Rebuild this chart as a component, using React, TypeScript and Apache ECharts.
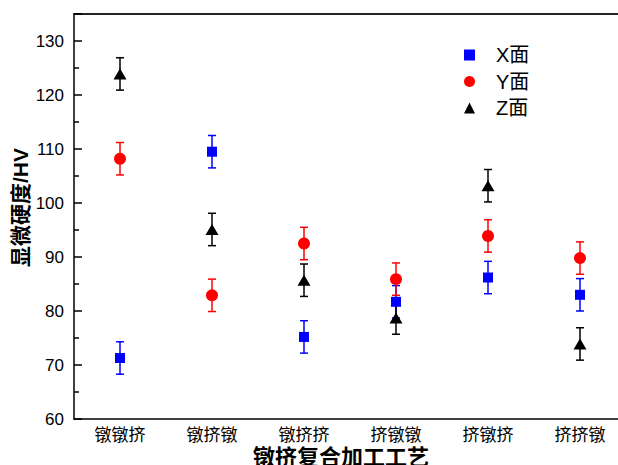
import React, { useEffect, useRef } from "react";
import * as echarts from "echarts";

const categories = ["镦镦挤", "镦挤镦", "镦挤挤", "挤镦镦", "挤镦挤", "挤挤镦"];
const seriesNames = ["X面", "Y面", "Z面"];
const xFace = [71.3, 109.5, 75.2, 81.7, 86.2, 83.0];
const yFace = [108.2, 82.9, 92.5, 85.9, 93.9, 89.8];
const zFace = [123.9, 95.1, 85.7, 78.7, 103.2, 73.9];
const xErr = [3.0, 3.0, 3.0, 3.0, 3.0, 3.0];
const yErr = [3.0, 3.0, 3.0, 3.0, 3.0, 3.0];
const zErr = [3.0, 3.0, 3.0, 3.0, 3.0, 3.0];
const yTicks = { min: 60, max: 135, interval: 10 };

const FONT = "'Liberation Sans', 'Noto Sans CJK SC', sans-serif";

export default function App() {
  const ref = useRef<HTMLDivElement>(null);
  useEffect(() => {
    document.body.style.margin = "0";
    if (!ref.current) return;
    const chart = echarts.init(ref.current, undefined, { renderer: "svg" });
    const colors = ["#0000ff", "#ff0000", "#000000"];
    const symbols = ["rect", "circle", "triangle"];
    const sizes: any[] = [[10, 10], 12, [13, 11]];
    const vals = [xFace, yFace, zFace];
    const errs = [xErr, yErr, zErr];

    const errSeries = vals.map((v, si) => ({
      type: "custom",
      name: "err" + si,
      z: 1,
      encode: { x: 0, y: [1, 2] },
      data: v.map((val, i) => [i, val - errs[si][i], val + errs[si][i]]),
      renderItem: (params: any, api: any) => {
        const x = api.value(0);
        const p1 = api.coord([x, api.value(1)]);
        const p2 = api.coord([x, api.value(2)]);
        const half = 4;
        const style = { stroke: colors[si], lineWidth: 1.5 };
        return {
          type: "group",
          children: [
            { type: "line", shape: { x1: p1[0], y1: p1[1], x2: p2[0], y2: p2[1] }, style },
            { type: "line", shape: { x1: p1[0] - half, y1: p1[1], x2: p1[0] + half, y2: p1[1] }, style },
            { type: "line", shape: { x1: p2[0] - half, y1: p2[1], x2: p2[0] + half, y2: p2[1] }, style },
          ],
        };
      },
    }));

    const scatterSeries = vals.map((v, si) => ({
      type: "scatter",
      name: seriesNames[si],
      z: 3,
      symbol: symbols[si],
      symbolSize: sizes[si],
      itemStyle: { color: colors[si], opacity: 1 },
      data: v,
    }));

    chart.setOption({
      animation: false,
      textStyle: { fontFamily: FONT },
      grid: { left: 74, top: 14, width: 552, height: 405, containLabel: false, outerBoundsMode: "none" },
      legend: {
        orient: "vertical",
        left: 459,
        top: 40,
        itemWidth: 11,
        itemHeight: 11,
        itemGap: 6.5,
        data: [
          { name: "X面", icon: "rect" },
          { name: "Y面", icon: "circle" },
          { name: "Z面", icon: "triangle" },
        ],
        textStyle: { fontSize: 20, lineHeight: 20, color: "#000", fontFamily: FONT, padding: [0, 0, 0, 16] },
      },
      xAxis: [
        {
          type: "category",
          data: categories,
          position: "bottom",
          boundaryGap: true,
          axisLine: { lineStyle: { color: "#000", width: 1.5 } },
          axisTick: { inside: true, length: 8, alignWithLabel: true, lineStyle: { color: "#000", width: 1.5 } },
          axisLabel: { fontSize: 17, color: "#000", margin: 8, fontFamily: FONT },
          name: "镦挤复合加工工艺",
          nameLocation: "middle",
          nameGap: 27,
          nameMoveOverlap: false,
          nameTextStyle: { fontSize: 22, fontWeight: "bold", color: "#000", fontFamily: FONT, padding: [0, 18, 0, 0] },
          splitLine: { show: false },
        },
        {
          type: "category",
          data: categories,
          position: "top",
          boundaryGap: true,
          axisLine: { lineStyle: { color: "#222", width: 2 } },
          axisTick: { inside: true, length: 3, alignWithLabel: true, lineStyle: { color: "#000", width: 1.5 } },
          axisLabel: { show: false },
          splitLine: { show: false },
        },
      ],
      yAxis: {
        type: "value",
        min: yTicks.min,
        max: yTicks.max,
        interval: yTicks.interval,
        axisLine: { show: true, lineStyle: { color: "#000", width: 1.5 } },
        axisTick: { show: true, inside: true, length: 8, lineStyle: { color: "#000", width: 1.5 } },
        minorTick: { show: true, splitNumber: 2, length: 5, lineStyle: { color: "#000", width: 1.5 } },
        axisLabel: {
          fontSize: 17,
          color: "#000",
          margin: 10,
          fontFamily: FONT,
          formatter: (v: number) => (v % yTicks.interval === 0 ? String(v) : ""),
        },
        splitLine: { show: false },
        name: "显微硬度/HV",
        nameLocation: "middle",
        nameGap: 43,
        nameMoveOverlap: false,
        nameRotate: 90,
        nameTextStyle: { fontSize: 21, fontWeight: "bold", color: "#000", fontFamily: FONT, padding: [0, 0, 0, 18] },
      },
      series: [...errSeries, ...scatterSeries],
    });
    return () => chart.dispose();
  }, []);
  return <div ref={ref} style={{ width: 618, height: 465 }} />;
}
